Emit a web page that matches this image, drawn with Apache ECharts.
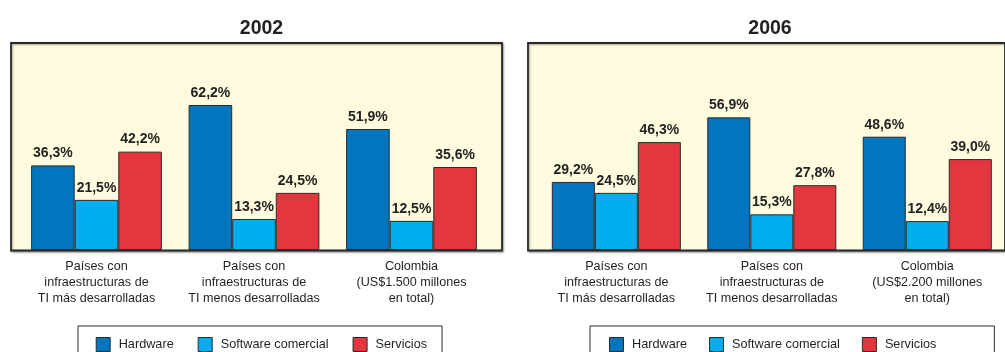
<!DOCTYPE html>
<html>
<head>
<meta charset="utf-8">
<style>
  html, body { margin: 0; padding: 0; background: #ffffff; }
  #chart { width: 1005px; height: 352px; }
</style>
<script src="https://cdn.jsdelivr.net/npm/echarts@6/dist/echarts.min.js"></script>
</head>
<body>
<div id="chart"></div>
<script>
// Spending shares by segment (percent), two snapshots
const seriesNames = ['Hardware', 'Software comercial', 'Servicios'];

const categories2002 = [
  'Países con\ninfraestructuras de\nTI más desarrolladas',
  'Países con\ninfraestructuras de\nTI menos desarrolladas',
  'Colombia\n(US$1.500 millones\nen total)'
];
const categories2006 = [
  'Países con\ninfraestructuras de\nTI más desarrolladas',
  'Países con\ninfraestructuras de\nTI menos desarrolladas',
  'Colombia\n(US$2.200 millones\nen total)'
];

const hardware2002 = [36.3, 62.2, 51.9];
const software2002 = [21.5, 13.3, 12.5];
const services2002 = [42.2, 24.5, 35.6];

const hardware2006 = [29.2, 56.9, 48.6];
const software2006 = [24.5, 15.3, 12.4];
const services2006 = [46.3, 27.8, 39.0];

const colors = ['#0176bf', '#00aeef', '#e3363f'];
const font = '"Liberation Sans", Arial, Helvetica, sans-serif';
const ink = '#231f20';
const yMax = 88.8;

const chart = echarts.init(document.getElementById('chart'), null, { renderer: 'canvas' });

function frameGrid(left, width) {
  return {
    show: true, left: left, top: 43, width: width, height: 207.5,
    backgroundColor: '#fefbdf', borderColor: '#2a2a2a', borderWidth: 1.8,
    shadowColor: 'rgba(0,0,0,0.35)', shadowBlur: 2, shadowOffsetX: 1, shadowOffsetY: 1
  };
}
function dataGrid(left, width) {
  return { left: left, top: 43, width: width, height: 207 };
}
function hiddenAxis(gridIndex) {
  return { type: 'value', gridIndex: gridIndex, show: false, min: 0, max: 1 };
}
function catAxis(gridIndex, data) {
  return {
    type: 'category', gridIndex: gridIndex, data: data,
    axisLine: { show: false }, axisTick: { show: false }, splitLine: { show: false },
    axisLabel: {
      interval: 0, margin: 9, color: ink, fontFamily: font,
      fontSize: 12.6, lineHeight: 16, align: 'center'
    }
  };
}
function valAxis(gridIndex) {
  return { type: 'value', gridIndex: gridIndex, min: 0, max: yMax, show: false, splitLine: { show: false } };
}
function barSeries(name, data, axisIndex, color) {
  return {
    type: 'bar', name: name, data: data,
    xAxisIndex: axisIndex, yAxisIndex: axisIndex,
    barGap: '0%', barCategoryGap: '17%',
    itemStyle: { color: color, borderColor: '#2a2a2a', borderWidth: 1 },
    label: {
      show: true, position: 'top', distance: 5,
      formatter: p => p.value.toFixed(1).replace('.', ',') + '%',
      color: ink, fontFamily: font, fontWeight: 'bold', fontSize: 14
    },
    emphasis: { disabled: true },
    animation: false
  };
}
function legendAt(left, padding, gap) {
  return {
    data: seriesNames, left: left, top: 326, orient: 'horizontal',
    itemWidth: 14, itemHeight: 14, itemGap: gap,
    padding: padding,
    borderColor: '#2a2a2a', borderWidth: 1, backgroundColor: '#ffffff',
    icon: 'rect',
    itemStyle: { borderColor: '#2a2a2a', borderWidth: 1 },
    textStyle: { color: ink, fontFamily: font, fontSize: 12.7, padding: [0, 0, 0, 3.5] },
    selectedMode: false
  };
}

chart.setOption({
  animation: false,
  color: colors,
  title: [
    { text: '2002', left: 256.5, top: 14, textAlign: 'center',
      textStyle: { fontFamily: font, fontWeight: 'bold', fontSize: 19.5, color: ink } },
    { text: '2006', left: 765, top: 14, textAlign: 'center',
      textStyle: { fontFamily: font, fontWeight: 'bold', fontSize: 19.5, color: ink } }
  ],
  grid: [
    frameGrid(11, 491),
    dataGrid(17.75, 472.5),
    frameGrid(528, 500),
    dataGrid(538.6, 468.5)
  ],
  xAxis: [
    hiddenAxis(0),
    catAxis(1, categories2002),
    hiddenAxis(2),
    catAxis(3, categories2006)
  ],
  yAxis: [
    hiddenAxis(0),
    valAxis(1),
    hiddenAxis(2),
    valAxis(3)
  ],
  legend: [
    legendAt(78, [11, 15, 12, 17.7], 24),
    legendAt(590, [11, 58, 12, 19], 22)
  ],
  series: [
    barSeries(seriesNames[0], hardware2002, 1, colors[0]),
    barSeries(seriesNames[1], software2002, 1, colors[1]),
    barSeries(seriesNames[2], services2002, 1, colors[2]),
    barSeries(seriesNames[0], hardware2006, 3, colors[0]),
    barSeries(seriesNames[1], software2006, 3, colors[1]),
    barSeries(seriesNames[2], services2006, 3, colors[2])
  ]
});
</script>
</body>
</html>
